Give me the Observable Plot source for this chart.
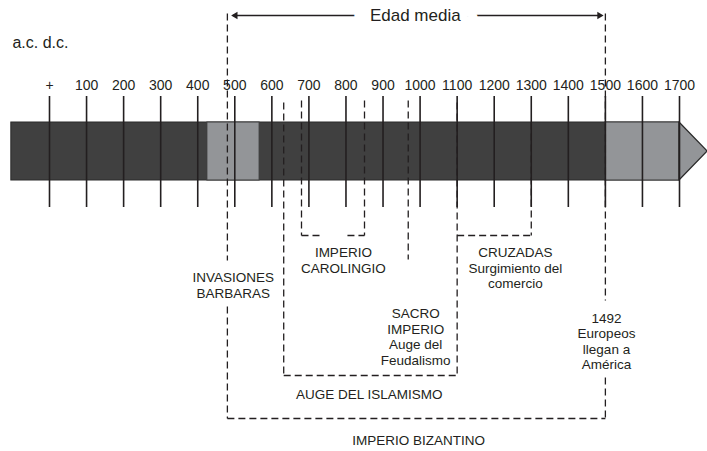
<!DOCTYPE html>
<html><head><meta charset="utf-8">
<script src="https://cdn.jsdelivr.net/npm/d3@7"></script>
<script src="https://cdn.jsdelivr.net/npm/@observablehq/plot@0.6"></script>
<style>body{margin:0;background:#fff}</style>
</head><body><div id="chart"></div>
<script>
// ---- data ----
const tickYears = [0,100,200,300,400,500,600,700,800,900,1000,1100,1200,1300,1400,1500,1600,1700];
const tickLabels = ["+","100","200","300","400","500","600","700","800","900","1000","1100","1200","1300","1400","1500","1600","1700"];
const timelineStart = -103, timelineEnd = 1700, arrowTip = 1776;
const highlightStart = [426, 1500];
const highlightEnd = [567, 1700];
const periodNames = ["IMPERIO BIZANTINO", "AUGE DEL ISLAMISMO", "IMPERIO CAROLINGIO", "CRUZADAS"];
const periodStart = [480, 632, 680, 1100];
const periodEnd = [1500, 1100, 850, 1300];
const edadMedia = [480, 1500];
const sacroImperio = 968;
const labelTexts = ["INVASIONES\nBARBARAS", "IMPERIO\nCAROLINGIO", "SACRO\nIMPERIO\nAuge del\nFeudalismo",
  "AUGE DEL ISLAMISMO", "IMPERIO BIZANTINO", "CRUZADAS\nSurgimiento del\ncomercio", "1492\nEuropeos\nllegan a\nAmérica"];
const labelYears = [496, 793, 988, 863, 996, 1257, 1503];

// ---- layout ----
const ink = "#231f20";
const bandTop = 122, bandBottom = 180, bandMid = 151;
const labelRows = [284.5, 259.5, 336, 394, 440, 267.5, 340.5];
const dash = "7,4";

const [biz, isl, car, cru] = [0,1,2,3];
const segs = [
  // Imperio Bizantino
  {x1: periodStart[biz], y1: 13, x2: periodStart[biz], y2: 260},
  {x1: periodStart[biz], y1: 306, x2: periodStart[biz], y2: 418},
  {x1: periodStart[biz], y1: 418, x2: periodEnd[biz], y2: 418},
  {x1: periodEnd[biz], y1: 13, x2: periodEnd[biz], y2: 300},
  {x1: periodEnd[biz], y1: 377, x2: periodEnd[biz], y2: 418},
  // Auge del Islamismo
  {x1: periodStart[isl], y1: 102, x2: periodStart[isl], y2: 375},
  {x1: periodStart[isl], y1: 375, x2: periodEnd[isl], y2: 375},
  {x1: periodEnd[isl], y1: 102, x2: periodEnd[isl], y2: 375},
  // Imperio Carolingio
  {x1: periodStart[car], y1: 100, x2: periodStart[car], y2: 235},
  {x1: periodStart[car], y1: 235, x2: 737, y2: 235},
  {x1: 804, y1: 235, x2: periodEnd[car], y2: 235},
  {x1: periodEnd[car], y1: 100, x2: periodEnd[car], y2: 235},
  // Cruzadas
  {x1: periodStart[cru], y1: 235, x2: periodEnd[cru], y2: 235},
  {x1: periodEnd[cru], y1: bandTop, x2: periodEnd[cru], y2: 235},
  // Sacro Imperio
  {x1: sacroImperio, y1: 100, x2: sacroImperio, y2: 259}
];

const ticks = tickYears.map((y, i) => ({year: y, label: tickLabels[i]}));
const highlights = highlightStart.map((s, i) => ({s, e: highlightEnd[i]}));
const labels = labelTexts.map((t, i) => ({t, x: labelYears[i], y: labelRows[i]}));
const tip = [{x: timelineEnd, top: bandTop, bottom: bandBottom}, {x: arrowTip, top: bandMid, bottom: bandMid}];

const chart = Plot.plot({
  width: 707, height: 451,
  marginLeft: 49, marginRight: 28, marginTop: 0, marginBottom: 0,
  x: {domain: [0, 1700], axis: null},
  y: {domain: [0, 451], range: [0, 451], axis: null},
  style: {fontFamily: "'Liberation Sans', Arial, sans-serif", background: "#fff", color: ink, overflow: "visible"},
  marks: [
    Plot.rect([{}], {x1: timelineStart, x2: timelineEnd, y1: bandTop, y2: bandBottom, fill: "#404040", stroke: "#2a2a2a", strokeWidth: 1}),
    Plot.rect(highlights, {x1: "s", x2: "e", y1: bandTop, y2: bandBottom, fill: "#939598", stroke: "#3a3a3a", strokeWidth: 1}),
    Plot.area(tip, {x1: "x", y1: "top", y2: "bottom", fill: "#939598", stroke: "#2a2a2a", strokeWidth: 1.2}),
    Plot.ruleX(ticks, {x: "year", y1: 96, y2: 207, stroke: ink, strokeWidth: 1.6}),
    Plot.text(ticks, {x: "year", y: 85, text: "label", fontSize: 14, fill: ink}),
    Plot.link(segs, {x1: "x1", y1: "y1", x2: "x2", y2: "y2", stroke: ink, strokeWidth: 1.3, strokeDasharray: dash}),
    // Edad media arrow
    Plot.ruleY([15], {x1: edadMedia[0], x2: edadMedia[1], insetLeft: 6, insetRight: 6, stroke: ink, strokeWidth: 1.3}),
    Plot.dot([edadMedia[0]], {x: d => d, y: 15, symbol: "triangle", rotate: -90, r: 2.7, fill: ink, dx: 8}),
    Plot.dot([edadMedia[1]], {x: d => d, y: 15, symbol: "triangle", rotate: 90, r: 2.7, fill: ink, dx: -6}),
    Plot.text(["Edad media"], {x: 987, y: 15, text: d => d, fontSize: 17, fill: ink, stroke: "#fff", strokeWidth: 34}),
    Plot.text(["a.c. d.c."], {x: -100, y: 42, text: d => d, fontSize: 16, textAnchor: "start", fill: ink}),
    Plot.text(labels, {x: "x", y: "y", text: "t", fontSize: 13.5, lineHeight: 1.15, fill: ink})
  ]
});
document.getElementById("chart").appendChild(chart);
</script>
</body></html>
